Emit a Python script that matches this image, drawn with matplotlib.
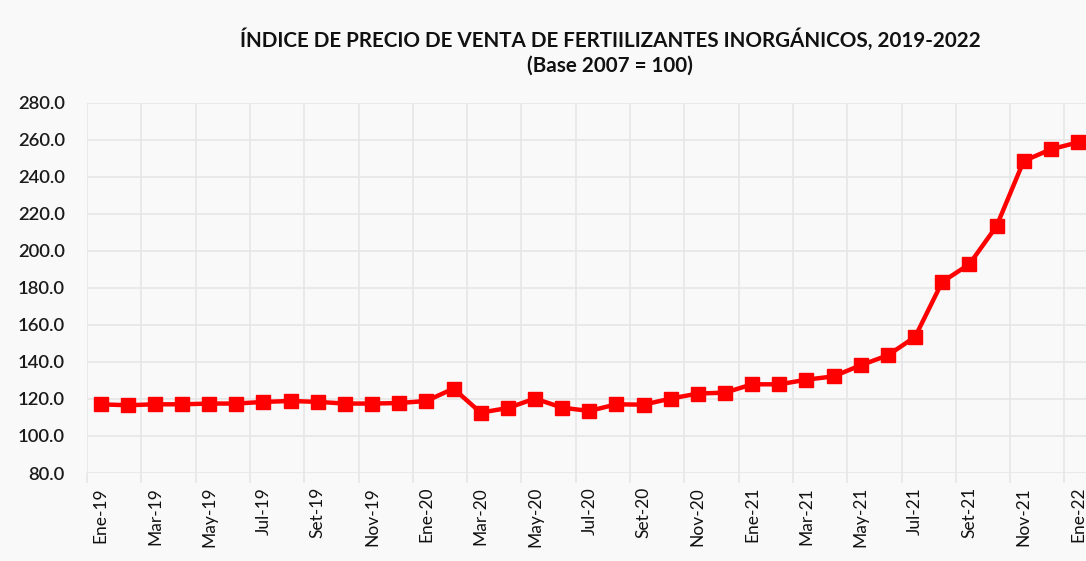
import matplotlib
matplotlib.use("Agg")
import matplotlib.pyplot as plt

# Datos (indice base 2007 = 100)
meses = ["Ene", "Feb", "Mar", "Abr", "May", "Jun", "Jul", "Ago", "Set", "Oct", "Nov", "Dic"]
anios = ["19", "20", "21", "22"]
etiquetas = [m + "-" + a for a in anios for m in meses][:37]

indice = [117.1, 116.6, 117.1, 117.1, 117.5, 117.5, 118.4, 118.9, 118.4, 117.5,
          117.5, 117.8, 118.9, 125.6, 112.6, 115.1, 120.2, 115.3, 113.5, 117.1,
          116.9, 120.2, 122.9, 123.4, 127.9, 127.9, 130.4, 132.2, 138.2, 143.6,
          153.5, 183.2, 192.8, 213.3, 248.5, 254.8, 258.6]

yticks = [80, 100, 120, 140, 160, 180, 200, 220, 240, 260, 280]

plt.rcParams['font.family'] = ['Lato', 'DejaVu Sans']

W, H = 1086, 561
fig = plt.figure(figsize=(W / 100, H / 100), dpi=100, facecolor="#f9f9f9")

# axes en pixeles: izquierda 87, arriba 102.7, abajo 473
x0, top, bot = 87, 102.7, 473
paso = 27.15
xmax = 36.3
ax = fig.add_axes([x0 / W, (H - bot) / H, (paso * (xmax + 0.5)) / W, (bot - top) / H])
ax.set_facecolor("#f9f9f9")

x = list(range(len(indice)))
ax.plot(x, indice, color="#ff0000", lw=3.2, marker="s", ms=10, mec="#ff0000", mfc="#ff0000",
        solid_joinstyle="round", clip_on=False, zorder=3)

ax.set_xlim(-0.5, xmax)
ax.set_ylim(80, 280)
ax.set_yticks(yticks)
ax.set_yticklabels([f"{v:.1f}" for v in yticks], fontsize=13.3, color="#1a1a1a",
                   fontweight="semibold")

ax.set_xticks(x[::2])
ax.set_xticklabels(etiquetas[::2], rotation=90, fontsize=12.5, color="#111111")
ax.set_xticks([i - 0.5 for i in range(0, 37, 2)], minor=True)

ax.grid(False)
for v in yticks:
    ax.axhline(v, color="#e6e6e6", lw=1.2, zorder=1)
for v in [i - 0.5 for i in range(0, 37, 2)]:
    ax.axvline(v, color="#e6e6e6", lw=1.2, zorder=1)

ax.tick_params(axis="x", which="major", length=0, pad=10)
ax.tick_params(axis="x", which="minor", length=7, color="#e6e6e6", width=1.2)
ax.tick_params(axis="y", length=0, pad=16)
for s in ax.spines.values():
    s.set_visible(False)

fig.text(610 / W, 1 - 40 / H, "ÍNDICE DE PRECIO DE VENTA DE FERTIILIZANTES INORGÁNICOS, 2019-2022",
         ha="center", va="center", fontsize=14.9, fontweight="bold", color="#111111")
fig.text(610 / W, 1 - 66 / H, "(Base 2007 = 100)",
         ha="center", va="center", fontsize=14.9, fontweight="bold", color="#111111")

fig.savefig("out.png", dpi=100, facecolor=fig.get_facecolor())
